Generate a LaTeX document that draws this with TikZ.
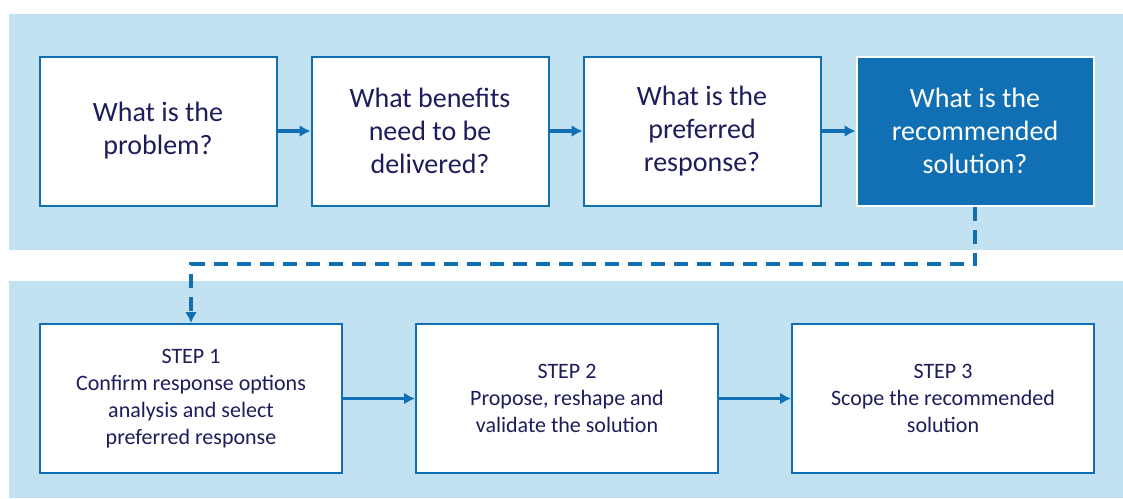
\documentclass[tikz,border=0pt]{standalone}
\usepackage{fontspec}
\setmainfont{Carlito}
\usetikzlibrary{arrows.meta}
\definecolor{band}{RGB}{194,226,242}
\definecolor{edge}{RGB}{17,112,180}
\definecolor{ink}{RGB}{30,28,90}
\tikzstyle{question}=[draw=edge, fill=white, line width=1pt, minimum width=118.5pt, minimum height=74.5pt, align=center, text=ink, font=\fontsize{14}{16.5}\selectfont]
\tikzstyle{answer}=[question, draw=white, fill=edge, text=white]
\tikzstyle{stepbox}=[draw=edge, fill=white, line width=1pt, minimum width=151pt, minimum height=74.5pt, align=center, text=ink, font=\fontsize{11}{13.4}\selectfont]
\tikzstyle{link}=[draw=edge, line width=1.6pt, -{Latex[length=5.5pt,width=6pt]}]
\tikzstyle{handover}=[link, line width=2pt, dash pattern=on 7pt off 4.5pt]

\begin{document}
\begin{tikzpicture}[x=0.5pt, y=-0.5pt]
          \useasboundingbox (0,0) rectangle (1123,498);
          \fill[band] (9,14) rectangle (1123,250);
          \fill[band] (9,281) rectangle (1123,498);

          \node[question] (problem) at (158, 131) {What is the\\problem?};
          \node[question] (benefits) at (430, 131) {What benefits\\need to be\\delivered?};
          \node[question] (response) at (702, 131) {What is the\\preferred\\response?};
          \node[answer] (solution) at (975, 131) {What is the\\recommended\\solution?};

          \node[stepbox] (step1) at (191, 398.5) {STEP 1\\Confirm response options\\analysis and select\\preferred response};
          \node[stepbox] (step2) at (567, 398.5) {STEP 2\\Propose, reshape and\\validate the solution};
          \node[stepbox] (step3) at (943, 398.5) {STEP 3\\Scope the recommended\\solution};
          \coordinate (turn) at (191, 264);

          \draw[link] (problem) -- (benefits);
          \draw[link] (benefits) -- (response);
          \draw[link] (response) -- (solution);
          \draw[handover] (solution.south) |- (turn) -- (step1.north);
          \draw[link] (step1) -- (step2);
          \draw[link] (step2) -- (step3);
        \end{tikzpicture}
\end{document}
